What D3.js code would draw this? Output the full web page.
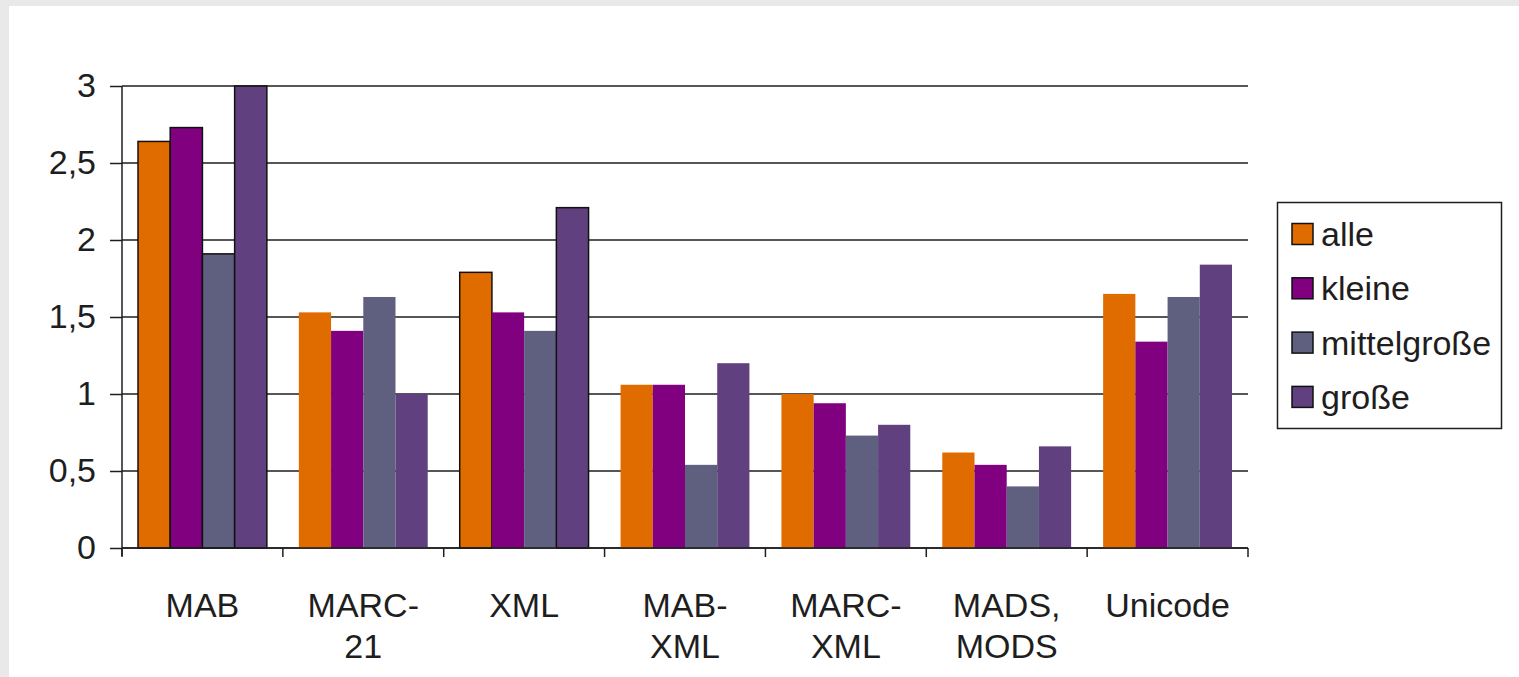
<!DOCTYPE html>
<html>
<head>
<meta charset="utf-8">
<script src="https://cdn.jsdelivr.net/npm/d3@7"></script>
<style>
  html, body { margin: 0; padding: 0; background: #e9e9e9; }
  svg { display: block; }
  text { font-family: "Liberation Sans", Arial, Helvetica, sans-serif; fill: #1e1e1e; }
</style>
</head>
<body>
<svg id="chart" width="1519" height="677"></svg>
<script>
const categories = ["MAB", "MARC-21", "XML", "MAB-XML", "MARC-XML", "MADS, MODS", "Unicode"];
const categoryLines = [["MAB"], ["MARC-", "21"], ["XML"], ["MAB-", "XML"], ["MARC-", "XML"], ["MADS,", "MODS"], ["Unicode"]];
const seriesNames = ["alle", "kleine", "mittelgroße", "große"];
const alle        = [2.64, 1.53, 1.79, 1.06, 1.00, 0.62, 1.65];
const kleine      = [2.73, 1.41, 1.53, 1.06, 0.94, 0.54, 1.34];
const mittelgrosse= [1.91, 1.63, 1.41, 0.54, 0.73, 0.40, 1.63];
const grosse      = [3.00, 1.00, 2.21, 1.20, 0.80, 0.66, 1.84];
const yTicks = [0, 0.5, 1, 1.5, 2, 2.5, 3];
const yTickLabels = ["0", "0,5", "1", "1,5", "2", "2,5", "3"];

const seriesValues = [alle, kleine, mittelgrosse, grosse];
const colors = ["#e06c00", "#800080", "#5f6080", "#614080"];

const svg = d3.select("#chart");
// white panel
svg.append("rect").attr("x", 9).attr("y", 6).attr("width", 1510).attr("height", 671).attr("fill", "#ffffff");

const pLeft = 122, pRight = 1248, pTop = 86, pBottom = 548;
const x = d3.scaleBand().domain(categories).range([pLeft, pRight]).padding(0);
const pad = 16;
const x1 = d3.scaleBand().domain(seriesNames).range([pad, x.bandwidth() - pad]).padding(0);
const y = d3.scaleLinear().domain([0, 3]).range([pBottom, pTop]);

// gridlines
svg.append("g").selectAll("line").data(yTicks).join("line")
  .attr("x1", pLeft).attr("x2", pRight)
  .attr("y1", d => y(d)).attr("y2", d => y(d))
  .attr("stroke", "#1e1e1e").attr("stroke-width", 1.5);

// bars
const outlined = new Set(["MAB|alle","MAB|kleine","MAB|mittelgroße","MAB|große","XML|alle","XML|große"]);
const barData = [];
categories.forEach((c, i) => {
  seriesNames.forEach((s, j) => {
    barData.push({cat: c, ser: s, val: seriesValues[j][i], color: colors[j]});
  });
});
svg.append("g").selectAll("rect").data(barData).join("rect")
  .attr("x", d => x(d.cat) + x1(d.ser))
  .attr("width", x1.bandwidth())
  .attr("y", d => y(d.val))
  .attr("height", d => y(0) - y(d.val))
  .attr("fill", d => d.color)
  .attr("stroke", d => outlined.has(d.cat + "|" + d.ser) ? "#111" : "none")
  .attr("stroke-width", 1.5);

// y axis
const yAxis = d3.axisLeft(y).tickValues(yTicks).tickSize(12).tickPadding(14)
  .tickFormat((d, i) => yTickLabels[i]);
const gy = svg.append("g").attr("transform", `translate(${pLeft},0)`).call(yAxis);
gy.select(".domain").attr("stroke", "#1e1e1e").attr("stroke-width", 1.5)
  .attr("d", `M0,${pTop}V${pBottom + 8}`);
gy.selectAll(".tick line").attr("stroke", "#1e1e1e").attr("stroke-width", 1.5);
gy.selectAll(".tick text").attr("font-size", 34).attr("font-family", "Liberation Sans, Arial, sans-serif").attr("fill", "#1e1e1e");

// x axis line with ticks at band boundaries
const boundaries = categories.map(c => x(c)).concat([pRight]);
svg.append("line").attr("x1", pLeft).attr("x2", pRight).attr("y1", pBottom).attr("y2", pBottom)
  .attr("stroke", "#1e1e1e").attr("stroke-width", 1.5);
svg.append("g").selectAll("line").data(boundaries).join("line")
  .attr("x1", d => d).attr("x2", d => d)
  .attr("y1", pBottom).attr("y2", pBottom + 9)
  .attr("stroke", "#1e1e1e").attr("stroke-width", 1.5);

// category labels
const labG = svg.append("g");
categories.forEach((c, i) => {
  const t = labG.append("text")
    .attr("x", x(c) + x.bandwidth() / 2)
    .attr("y", 617)
    .attr("text-anchor", "middle")
    .attr("font-size", 34);
  categoryLines[i].forEach((ln, k) => {
    t.append("tspan").attr("x", x(c) + x.bandwidth() / 2).attr("dy", k === 0 ? 0 : 41).text(ln);
  });
});

// legend
const lg = svg.append("g");
lg.append("rect").attr("x", 1277.5).attr("y", 202.5).attr("width", 224).attr("height", 226)
  .attr("fill", "#fff").attr("stroke", "#1e1e1e").attr("stroke-width", 1.5);
seriesNames.forEach((s, j) => {
  const cy = 234 + j * 54.3;
  lg.append("rect").attr("x", 1292).attr("y", cy - 10.5).attr("width", 21).attr("height", 21)
    .attr("fill", colors[j]).attr("stroke", "#111").attr("stroke-width", 1.5);
  lg.append("text").attr("x", 1321).attr("y", cy + 12).attr("font-size", 34).text(s);
});
</script>
</body>
</html>
